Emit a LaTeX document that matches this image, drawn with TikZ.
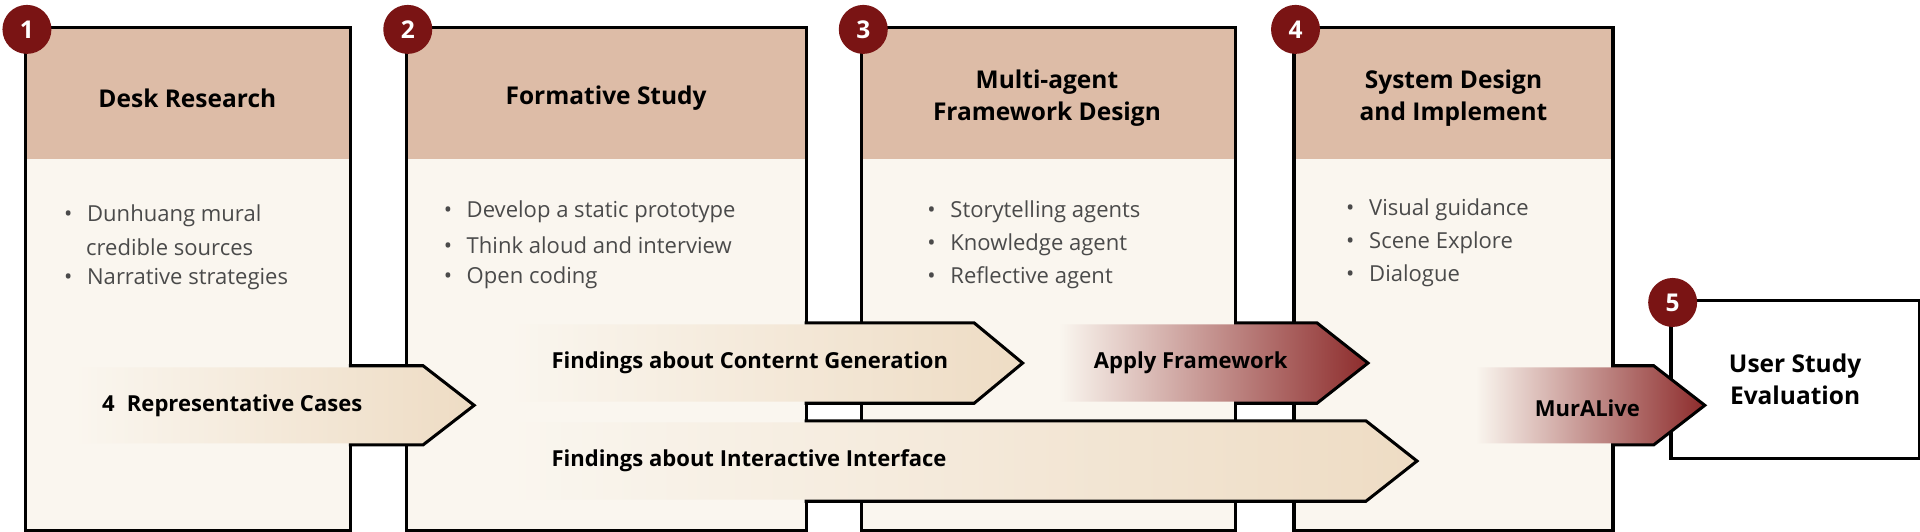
\documentclass[tikz,border=0pt]{standalone}
\usepackage{fontspec}
\setmainfont{Open Sans}
\begin{document}
\definecolor{hdr}{HTML}{DDBCA7}
\definecolor{bod}{HTML}{FAF6EF}
\definecolor{beige}{HTML}{EEDCC4}
\definecolor{dred}{HTML}{7A1414}
\definecolor{ared}{HTML}{8E2E2E}
\definecolor{gtxt}{HTML}{4A4A4A}
\begin{tikzpicture}[x=0.5pt,y=-0.5pt,
  outl/.style={draw=black,line width=2.6pt,line join=miter},
  ttl/.style={font=\fontsize{10}{13}\selectfont\bfseries,align=center,text=black},
  itm/.style={font=\fontsize{9}{10}\selectfont,text=gtxt,anchor=west,inner sep=0},
  lab/.style={font=\fontsize{9}{10}\selectfont\bfseries,anchor=west,inner sep=0},
  num/.style={circle,fill=dred,minimum size=20pt,inner sep=0,text=white,font=\fontsize{10}{12}\selectfont\bfseries}]
\useasboundingbox (0,0) rectangle (1568,434);
\fill[white] (0,0) rectangle (1568,434);
\foreach \a/\b in {22/285,333/657,705/1008,1058/1316}
  \draw[outl] (\a,24) rectangle (\b,432);
\draw[outl] (1366,247) rectangle (1566,373);
\foreach \a/\b in {22/285,333/657,705/1008,1058/1316}{
  \fill[bod] (\a,24) rectangle (\b,432);
  \fill[hdr] (\a,24) rectangle (\b,130);}
\fill[white] (1366,247) rectangle (1566,373);
\def\arrout#1#2#3#4#5{\draw[outl] (#1,#2) -- (#4,#2) -- (#5,{(#2+#3)/2}) -- (#4,#3) -- (#1,#3);}
\arrout{285}{300}{362}{345}{385}
\arrout{657}{265}{328}{795}{833}
\arrout{1008}{265}{328}{1075}{1115}
\arrout{657}{345}{408}{1115}{1155}
\arrout{1316}{300}{362}{1350}{1390}
\def\arrfill#1#2#3#4#5#6#7{\shade[left color=#6,right color=#7] (#1,#2) -- (#4,#2) -- (#5,{(#2+#3)/2}) -- (#4,#3) -- (#1,#3) -- cycle;}
\arrfill{60}{300}{362}{345}{385}{bod}{beige}
\arrfill{415}{265}{328}{795}{833}{bod}{beige}
\arrfill{865}{265}{328}{1075}{1115}{bod}{ared}
\arrfill{415}{345}{408}{1115}{1155}{bod}{beige}
\arrfill{1205}{300}{362}{1350}{1390}{bod}{ared}
\node[ttl] (t1) at (153,80) {Desk Research};
\node[ttl] (t2) at (495,80) {Formative Study};
\node[ttl] (t3) at (855,80) {Multi-agent\\Framework Design};
\node[ttl] (t4) at (1187,80) {System Design\\and Implement};
\node[ttl] (t5) at (1466,310) {User Study\\Evaluation};
\node[itm] (b11) at (52,176) {•\hspace{6pt}Dunhuang mural};
\node[itm] (b12) at (70,202) {credible sources};
\node[itm] (b13) at (52,228) {•\hspace{6pt}Narrative strategies};
\node[itm] (b21) at (362,173) {•\hspace{6pt}Develop a static prototype};
\node[itm] (b22) at (362,200) {•\hspace{6pt}Think aloud and interview};
\node[itm] (b23) at (362,227) {•\hspace{6pt}Open coding};
\node[itm] (b31) at (757,173) {•\hspace{6pt}Storytelling agents};
\node[itm] (b32) at (757,200) {•\hspace{6pt}Knowledge agent};
\node[itm] (b33) at (757,227) {•\hspace{6pt}Reflective agent};
\node[itm] (b41) at (1099,171) {•\hspace{6pt}Visual guidance};
\node[itm] (b42) at (1099,198) {•\hspace{6pt}Scene Explore};
\node[itm] (b43) at (1099,225) {•\hspace{6pt}Dialogue};
\node[lab] (l1) at (83,331) {4\hspace{5pt}Representative Cases};
\node[lab] (l2) at (450,296) {Findings about Conternt Generation};
\node[lab] (l3) at (893,296) {Apply Framework};
\node[lab] (l4) at (450,376) {Findings about Interactive Interface};
\node[lab] (l5) at (1253,333) {MurALive};
\node[num] (n1) at (22,24) {1};
\node[num] (n2) at (333,24) {2};
\node[num] (n3) at (705,24) {3};
\node[num] (n4) at (1058,24) {4};
\node[num] (n5) at (1366,247) {5};
\end{tikzpicture}
\end{document}
